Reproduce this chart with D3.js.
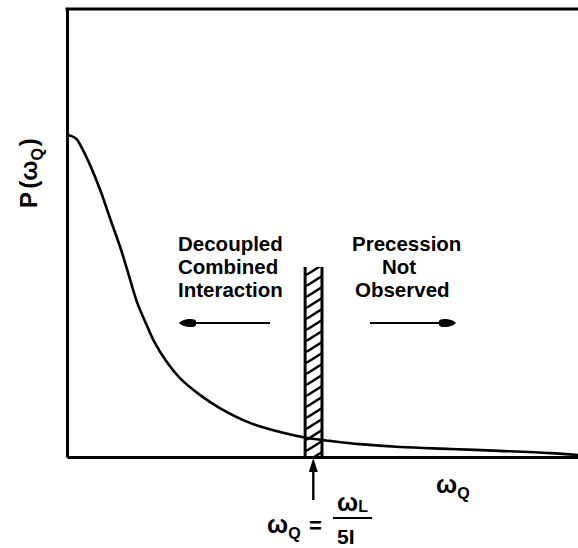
<!DOCTYPE html>
<html>
<head>
<meta charset="utf-8">
<script src="https://cdn.jsdelivr.net/npm/d3@7"></script>
<style>
  html, body { margin: 0; padding: 0; background: #fff; }
  svg { display: block; }
  text { font-family: "Liberation Sans", Arial, sans-serif; font-weight: bold; fill: #000; }
</style>
</head>
<body>
<svg id="chart" width="578" height="548"></svg>
<script>
// Distribution of quadrupole frequencies P(ωQ), arbitrary units
const omegaQ = [0, 0.08, 0.18, 0.29, 0.45, 0.65, 0.84, 1.04, 1.19, 1.37, 1.55, 1.72, 1.94,
                2.21, 2.60, 2.99, 3.58, 4.23, 4.70, 5.15, 5.73, 6.52, 7.50, 8.47, 9.45, 10];
const pOmega = [1.000, 0.997, 0.988, 0.960, 0.907, 0.829, 0.742, 0.652, 0.575, 0.481, 0.413,
                0.354, 0.298, 0.245, 0.193, 0.152, 0.106, 0.075, 0.059, 0.050, 0.040, 0.031,
                0.025, 0.019, 0.012, 0.006];

// Cut-off region around ωQ = ωL / 5I
const bandRange = [4.66, 4.99];
const bandTop = 0.59;
const cutoff = 4.82;

const xDomain = [0, 10];
const yDomain = [0, 1.391];

const leftLabel = ["Decoupled", "Combined", "Interaction"];
const rightLabel = ["Precession", "Not", "Observed"];

const svg = d3.select("#chart");
const x = d3.scaleLinear().domain(xDomain).range([67, 578]);
const y = d3.scaleLinear().domain(yDomain).range([457, 9]);

// hatch pattern for the cut-off band
const defs = svg.append("defs");
const pat = defs.append("pattern")
  .attr("id", "hatch").attr("patternUnits", "userSpaceOnUse")
  .attr("width", 18).attr("height", 11);
pat.append("path")
  .attr("d", "M-2,12.5 L20,-1.5 M-20,12.5 L2,-1.5 M16,12.5 L38,-1.5")
  .attr("stroke", "#000").attr("stroke-width", 2.4).attr("fill", "none");

// axes: bare domain lines
const xAxis = svg.append("g").attr("transform", `translate(0,${y(0)})`)
  .call(d3.axisBottom(x).tickValues([]).tickSizeOuter(0));
const yAxis = svg.append("g").attr("transform", `translate(${x(0)},0)`)
  .call(d3.axisLeft(y).tickValues([]).tickSizeOuter(0));
[xAxis, yAxis].forEach(g => g.select(".domain").attr("stroke", "#000").attr("stroke-width", 3));

// top frame line
svg.append("line")
  .attr("x1", x(0) - 1.5).attr("x2", x(10))
  .attr("y1", y(yDomain[1])).attr("y2", y(yDomain[1]))
  .attr("stroke", "#000").attr("stroke-width", 3);

// band
svg.append("rect")
  .attr("x", x(bandRange[0])).attr("y", y(bandTop))
  .attr("width", x(bandRange[1]) - x(bandRange[0]))
  .attr("height", y(0) - y(bandTop))
  .attr("fill", "url(#hatch)");
bandRange.forEach(v => {
  svg.append("line")
    .attr("x1", x(v)).attr("x2", x(v))
    .attr("y1", y(bandTop)).attr("y2", y(0))
    .attr("stroke", "#000").attr("stroke-width", 3);
});

// distribution curve
const line = d3.line()
  .x((d, i) => x(omegaQ[i]))
  .y(d => y(d))
  .curve(d3.curveCatmullRom.alpha(0.5));
svg.append("path")
  .datum(pOmega)
  .attr("d", line)
  .attr("fill", "none").attr("stroke", "#000").attr("stroke-width", 2.6);

// region labels
const fs = 20.5, lh = 23;
leftLabel.forEach((t, i) => {
  svg.append("text").attr("x", 178).attr("y", 251 + i * lh)
    .attr("font-size", fs).text(t);
});
const rightX = [352, 382, 355];
rightLabel.forEach((t, i) => {
  svg.append("text").attr("x", rightX[i]).attr("y", 251 + i * lh)
    .attr("font-size", fs).text(t);
});

// horizontal direction arrows
function arrowHead(tipX, tipY, dir) {
  const L = 17, W = 5;
  const bx = tipX - dir * L;
  return `M${tipX},${tipY} C${tipX - dir * 4},${tipY - W} ${bx},${tipY - W} ${bx},${tipY - 2}`
       + ` L${bx},${tipY + 2} C${bx},${tipY + W} ${tipX - dir * 4},${tipY + W} ${tipX},${tipY} Z`;
}
const arrowY = 323;
svg.append("line").attr("x1", 190).attr("x2", 270).attr("y1", arrowY).attr("y2", arrowY)
  .attr("stroke", "#000").attr("stroke-width", 2.2);
svg.append("path").attr("d", arrowHead(179, arrowY, -1)).attr("fill", "#000");
svg.append("line").attr("x1", 370).attr("x2", 445).attr("y1", arrowY).attr("y2", arrowY)
  .attr("stroke", "#000").attr("stroke-width", 2.2);
svg.append("path").attr("d", arrowHead(456, arrowY, 1)).attr("fill", "#000");

// arrow pointing to the cut-off
const cx = x(cutoff);
svg.append("line").attr("x1", cx).attr("x2", cx).attr("y1", 500).attr("y2", 468)
  .attr("stroke", "#000").attr("stroke-width", 2.4);
svg.append("path")
  .attr("d", `M${cx},${y(0) + 1} L${cx - 4.5},${y(0) + 15} L${cx + 4.5},${y(0) + 15} Z`)
  .attr("fill", "#000");

// y-axis title P(ωQ)
const yt = svg.append("text")
  .attr("transform", "translate(37,173) rotate(-90)")
  .attr("text-anchor", "middle").attr("font-size", 24);
yt.append("tspan").text("P");
yt.append("tspan").attr("dx", 3).text("(");
yt.append("tspan").text("ω");
yt.append("tspan").attr("font-size", 16).attr("dy", 6).text("Q");
yt.append("tspan").attr("dx", 2).attr("dy", -6).text(")");

// x-axis title ωQ
const xt = svg.append("text").attr("x", 436).attr("y", 493).attr("font-size", 25);
xt.append("tspan").text("ω");
xt.append("tspan").attr("font-size", 16).attr("dy", 6).text("Q");

// cut-off formula ωQ = ωL / 5I
const f1 = svg.append("text").attr("x", 267).attr("y", 533).attr("font-size", 25);
f1.append("tspan").text("ω");
f1.append("tspan").attr("font-size", 16).attr("dy", 6).text("Q");
svg.append("text").attr("x", 309).attr("y", 533).attr("font-size", 22).text("=");
const f2 = svg.append("text").attr("x", 337).attr("y", 511).attr("font-size", 25);
f2.append("tspan").text("ω");
f2.append("tspan").attr("font-size", 16).attr("dy", 1).text("L");
svg.append("line").attr("x1", 333).attr("x2", 372).attr("y1", 518).attr("y2", 518)
  .attr("stroke", "#000").attr("stroke-width", 2.2);
svg.append("text").attr("x", 337).attr("y", 544).attr("font-size", 21).text("5I");
</script>
</body>
</html>
